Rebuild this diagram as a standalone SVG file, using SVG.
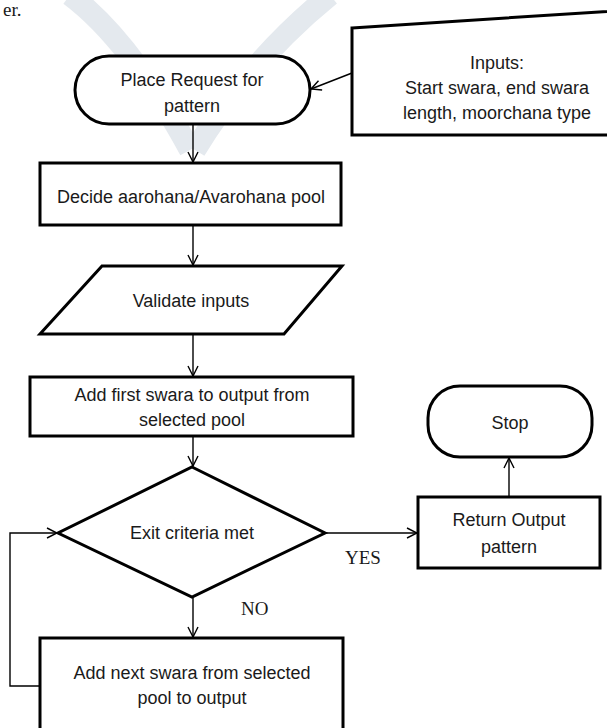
<svg xmlns="http://www.w3.org/2000/svg" width="607" height="728" viewBox="0 0 607 728">
<defs>
<marker id="arr" markerWidth="12" markerHeight="12" refX="11" refY="6" orient="auto" markerUnits="userSpaceOnUse">
<path d="M1,1 L11,6 L1,11" fill="none" stroke="#000" stroke-width="1.4"/>
</marker>
<style>
.shape{fill:#fff;stroke:#000;stroke-width:3;stroke-linejoin:miter}
.conn{fill:none;stroke:#000;stroke-width:1.4}
.t{font-family:"Liberation Sans",Arial,sans-serif;font-size:18px;fill:#1a1a1a;text-anchor:middle}
.s{font-family:"Liberation Serif","Times New Roman",serif;font-size:19px;fill:#1a1a1a}
.wm{fill:none;stroke:#e4e9ee;stroke-linecap:butt}
</style>
</defs>
<rect width="607" height="728" fill="#fff"/>
<g id="watermark">
<path class="wm" stroke-width="22" d="M70,-5 Q130,40 190,150"/>
<path class="wm" stroke-width="22" d="M330,-5 Q250,60 195,150"/>
</g>
<text class="s" x="3" y="16" font-size="18">er.</text>
<g id="connectors">
<line class="conn" x1="352" y1="73" x2="311" y2="89" marker-end="url(#arr)"/>
<line class="conn" x1="193" y1="125" x2="193" y2="162" marker-end="url(#arr)"/>
<line class="conn" x1="193" y1="226" x2="193" y2="265" marker-end="url(#arr)"/>
<line class="conn" x1="193" y1="335" x2="193" y2="376" marker-end="url(#arr)"/>
<line class="conn" x1="193" y1="437" x2="193" y2="466" marker-end="url(#arr)"/>
<line class="conn" x1="326" y1="533" x2="417" y2="533" marker-end="url(#arr)"/>
<line class="conn" x1="509" y1="496" x2="509" y2="458" marker-end="url(#arr)"/>
<line class="conn" x1="193" y1="598" x2="193" y2="637" marker-end="url(#arr)"/>
<polyline class="conn" points="40,686 10,686 10,533 57,533" marker-end="url(#arr)"/>
<text class="s" x="345" y="564">YES</text>
<text class="s" x="241" y="615">NO</text>
</g>
<g id="place-request">
<rect class="shape" x="75" y="56" width="235" height="68" rx="34" ry="34"/>
<text class="t" x="192" y="86">Place Request for</text>
<text class="t" x="192" y="112">pattern</text>
</g>
<g id="inputs">
<polygon class="shape" points="352,28 660,8 660,135 352,135"/>
<text class="t" x="497" y="69">Inputs:</text>
<text class="t" x="497" y="94">Start swara, end swara</text>
<text class="t" x="497" y="119">length, moorchana type</text>
</g>
<g id="decide-pool">
<rect class="shape" x="40" y="163" width="301" height="62"/>
<text class="t" x="191" y="203">Decide aarohana/Avarohana pool</text>
</g>
<g id="validate">
<polygon class="shape" points="102,266 342,266 284,334 40,334"/>
<text class="t" x="191" y="307">Validate inputs</text>
</g>
<g id="add-first">
<rect class="shape" x="30" y="377" width="323" height="59"/>
<text class="t" x="192" y="401">Add first swara to  output from</text>
<text class="t" x="192" y="426">selected pool</text>
</g>
<g id="exit-criteria">
<polygon class="shape" points="192,467 325,533 192,597 58,533"/>
<text class="t" x="192" y="539">Exit criteria met</text>
</g>
<g id="return-output">
<rect class="shape" x="418" y="497" width="182" height="71"/>
<text class="t" x="509" y="526">Return Output</text>
<text class="t" x="509" y="553">pattern</text>
</g>
<g id="stop">
<rect class="shape" x="428" y="386" width="164" height="71" rx="32" ry="32"/>
<text class="t" x="510" y="429">Stop</text>
</g>
<g id="add-next">
<rect class="shape" x="40" y="638" width="303" height="100"/>
<text class="t" x="192" y="679">Add next swara from selected</text>
<text class="t" x="192" y="704">pool to output</text>
</g>
</svg>
